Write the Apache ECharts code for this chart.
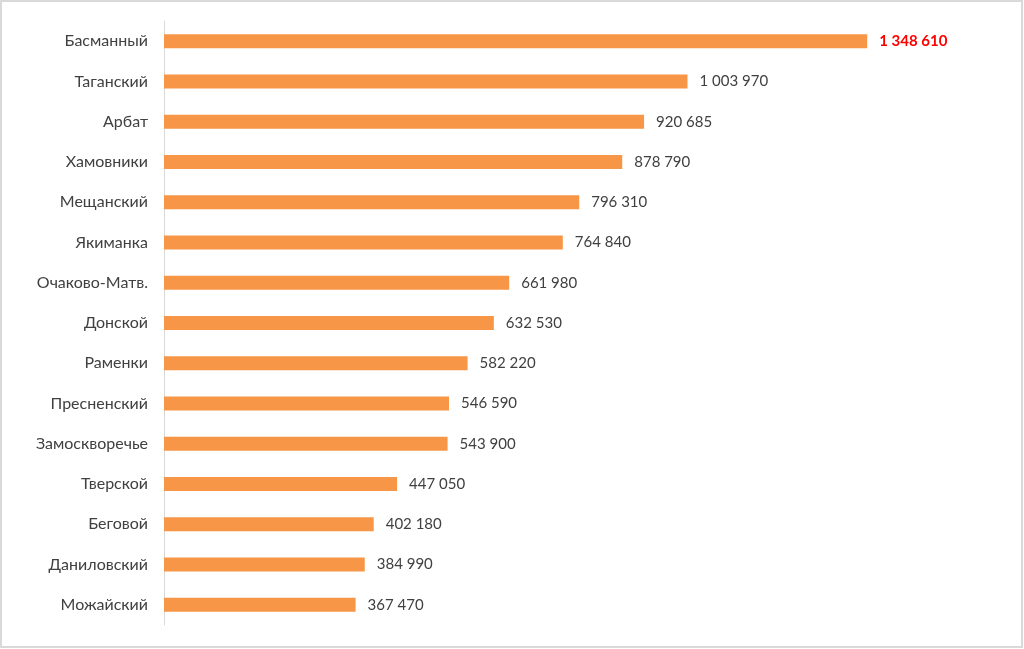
<!DOCTYPE html>
<html>
<head>
<meta charset="utf-8">
<script src="https://cdn.jsdelivr.net/npm/echarts@6/dist/echarts.min.js"></script>
<style>
  html, body { margin: 0; padding: 0; background: #fff; }
  #chart { width: 1024px; height: 649px; }
</style>
</head>
<body>
<div id="chart"></div>
<script>
// Districts, top to bottom
const districts = [
  'Басманный', 'Таганский', 'Арбат', 'Хамовники', 'Мещанский',
  'Якиманка', 'Очаково-Матв.', 'Донской', 'Раменки', 'Пресненский',
  'Замоскворечье', 'Тверской', 'Беговой', 'Даниловский', 'Можайский'
];
const values = [
  1348610, 1003970, 920685, 878790, 796310,
  764840, 661980, 632530, 582220, 546590,
  543900, 447050, 402180, 384990, 367470
];

const fontFamily = 'Lato, "Open Sans", "Liberation Sans", sans-serif';

// "1 348 610" style grouping
const fmt = (v) => String(v).replace(/\B(?=(\d{3})+(?!\d))/g, ' ');

const chart = echarts.init(document.getElementById('chart'));

const option = {
  backgroundColor: '#fff',
  animation: false,
  graphic: [{
    type: 'rect',
    shape: { x: 1, y: 1, width: 1021, height: 646 },
    style: { fill: 'none', stroke: '#d9d9d9', lineWidth: 2 }
  }],
  grid: {
    left: 164,
    right: 130,
    top: 21,
    bottom: 24,
    containLabel: false
  },
  xAxis: {
    type: 'value',
    min: 0,
    max: 1400000,
    show: false
  },
  yAxis: {
    type: 'category',
    inverse: true,
    data: districts,
    axisTick: { show: false },
    axisLine: { lineStyle: { color: '#d9d9d9', width: 1 } },
    axisLabel: {
      color: '#404040',
      fontSize: 16,
      fontFamily: fontFamily,
      margin: 16
    }
  },
  series: [{
    type: 'bar',
    barWidth: 14,
    data: values.map((v, i) => ({
      value: v,
      label: i === 0 ? { color: '#ff0000', fontWeight: 'bold' } : undefined
    })),
    itemStyle: { color: '#f79646' },
    label: {
      show: true,
      position: 'right',
      distance: 12,
      color: '#404040',
      fontSize: 15,
      fontFamily: fontFamily,
      formatter: (p) => fmt(p.value)
    }
  }]
};

chart.setOption(option);
</script>
</body>
</html>
